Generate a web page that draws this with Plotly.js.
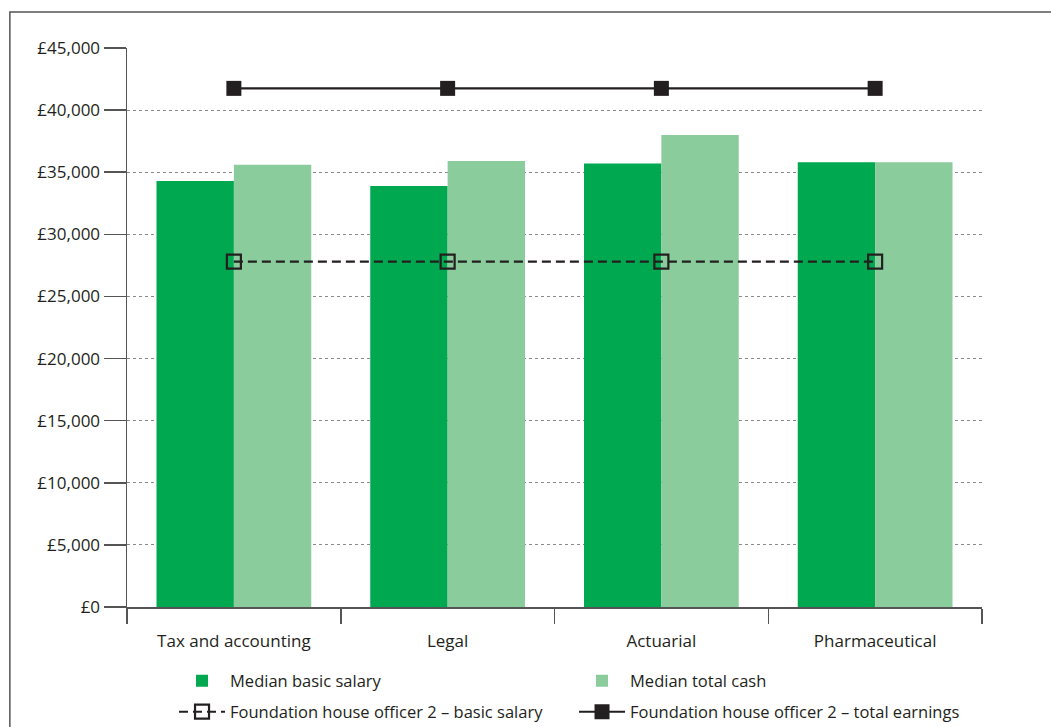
<!DOCTYPE html>
<html>
<head>
<meta charset="utf-8">
<script src="https://cdn.plot.ly/plotly-3.0.1.min.js"></script>
<style>
  html, body { margin: 0; padding: 0; background: #fff; }
  #chart { width: 1051px; height: 727px; }
</style>
</head>
<body>
<div id="chart"></div>
<script>
// Sectors compared
const sectors = ['Tax and accounting', 'Legal', 'Actuarial', 'Pharmaceutical'];

// Median pay by sector (£)
const medianBasicSalary = [34300, 33900, 35700, 35800];
const medianTotalCash   = [35600, 35900, 38000, 35800];

// Foundation house officer 2 reference levels (£), same for every sector
const fho2BasicSalary   = [27800, 27800, 27800, 27800];
const fho2TotalEarnings = [41750, 41750, 41750, 41750];

// Axis ticks
const yTickValues = [0, 5000, 10000, 15000, 20000, 25000, 30000, 35000, 40000, 45000];
const yTickLabels = ['£0', '£5,000', '£10,000', '£15,000', '£20,000', '£25,000',
                     '£30,000', '£35,000', '£40,000', '£45,000'];

const FONT = '"Open Sans", "Liberation Sans", sans-serif';
const INK = '#231f20';

const traces = [
  {
    type: 'bar', name: 'Median basic salary',
    x: sectors, y: medianBasicSalary,
    marker: { color: '#00a84f', line: { width: 0 } },
    legend: 'legend',
    hoverinfo: 'skip'
  },
  {
    type: 'bar', name: 'Median total cash',
    x: sectors, y: medianTotalCash,
    marker: { color: '#8acc9c', line: { width: 0 } },
    legend: 'legend',
    hoverinfo: 'skip'
  },
  {
    type: 'scatter', mode: 'lines+markers',
    name: 'Foundation house officer 2 – basic salary',
    x: sectors, y: fho2BasicSalary,
    line: { color: INK, width: 2.2, dash: '9px,5px' },
    marker: { symbol: 'square-open', size: 14, color: INK, line: { width: 2.2, color: INK } },
    legend: 'legend2',
    hoverinfo: 'skip'
  },
  {
    type: 'scatter', mode: 'lines+markers',
    name: 'Foundation house officer 2 – total earnings',
    x: sectors, y: fho2TotalEarnings,
    line: { color: INK, width: 2.2 },
    marker: { symbol: 'square', size: 15, color: INK },
    legend: 'legend2',
    hoverinfo: 'skip'
  }
];

const legendCommon = {
  orientation: 'h',
  x: 0.055, xanchor: 'left',
  yanchor: 'middle',
  entrywidth: 339, entrywidthmode: 'pixels',
  traceorder: 'normal',
  font: { family: FONT, size: 16.5, color: INK },
  bgcolor: 'rgba(0,0,0,0)',
  itemwidth: 46
};

const layout = {
  width: 1051, height: 727,
  margin: { l: 127, r: 69, t: 48, b: 120, autoexpand: false },
  paper_bgcolor: '#ffffff', plot_bgcolor: '#ffffff',
  font: { family: FONT, size: 17, color: INK },
  showlegend: true,
  barmode: 'group',
  bargap: 0.276,
  bargroupgap: 0,
  xaxis: {
    type: 'category',
    showgrid: false,
    showline: true, linecolor: '#555555', linewidth: 1.5,
    ticks: 'outside', tickson: 'boundaries', ticklen: 15, tickwidth: 1.5, tickcolor: '#555555',
    ticklabelstandoff: 18,
    tickfont: { family: FONT, size: 17, color: INK },
    zeroline: false,
    fixedrange: true
  },
  yaxis: {
    range: [0, 45000],
    tickvals: yTickValues, ticktext: yTickLabels,
    showgrid: true, gridcolor: '#8a8a8a', gridwidth: 1, griddash: 'dot',
    showline: true, linecolor: '#555555', linewidth: 1.5,
    ticks: 'outside', ticklen: 22, tickwidth: 1.5, tickcolor: '#555555',
    tickfont: { family: FONT, size: 17, color: INK },
    zeroline: false,
    fixedrange: true
  },
  // bars on the first legend row, reference lines on the second
  legend: Object.assign({}, legendCommon, { y: (607 - 681) / 559 }),
  legend2: Object.assign({}, legendCommon, { y: (607 - 712) / 559 }),
  shapes: [
    {
      // outer frame, open on the right and bottom edges of the page
      type: 'rect', xref: 'paper', yref: 'paper',
      x0: -0.137, x1: 1.2, y0: -0.4, y1: 1.0644,
      line: { color: '#555555', width: 1.5 }, fillcolor: 'rgba(0,0,0,0)',
      layer: 'below'
    }
  ]
};

Plotly.newPlot('chart', traces, layout, { staticPlot: true, displayModeBar: false });
</script>
</body>
</html>
